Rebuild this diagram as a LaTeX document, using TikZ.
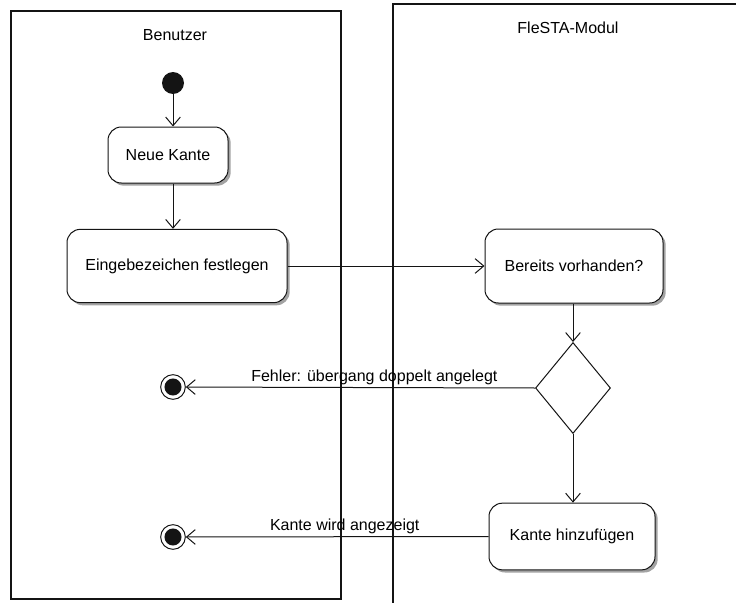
\documentclass[tikz,border=0pt]{standalone}
\usepackage{fontspec}
\setmainfont{Liberation Sans}
\usetikzlibrary{arrows.meta,calc,positioning,shapes.geometric,shadows}
\definecolor{umlInk}{RGB}{20,20,20}
\definecolor{umlShade}{RGB}{140,140,140}
\tikzset{
  lane/.style={draw=umlInk,line width=0.8pt},
  action/.style={draw=umlInk,fill=white,rounded corners=10pt,line width=0.75pt,
    align=center,inner sep=0pt,
    drop shadow={shadow xshift=2pt,shadow yshift=-2pt,fill=umlShade,opacity=0.8}},
  startdot/.style={circle,fill=umlInk,inner sep=0pt,minimum size=16.5pt},
  stopdot/.style={circle,draw=umlInk,fill=white,line width=0.75pt,inner sep=0pt,
    minimum size=18.5pt,
    path picture={\fill[umlInk] (path picture bounding box.center) circle (6.4pt);}},
  decide/.style={diamond,draw=umlInk,fill=white,line width=0.75pt,inner sep=0pt,
    minimum width=56.25pt,minimum height=68.25pt},
  flow/.style={-{Straight Barb[length=6.5pt,width=11pt]},line width=0.75pt,draw=umlInk},
  flowtext/.style={inner sep=1.5pt}
}

\begin{document}
\begin{tikzpicture}[x=0.75pt,y=-0.75pt,font=\fontsize{12}{14}\selectfont]
  \useasboundingbox (0,0) rectangle (736,603);
  % swimlanes
  \draw[lane] (11,11) rectangle (341,599);
  \draw[lane] (736,4) -- (393,4) -- (393,603);
  \node (userLane) at (175,35) {Benutzer};
  \node (moduleLane) at (568,28) {FleSTA-Modul};
  % activities
  \node[startdot] (start) at (173,83) {};
  \node[action,minimum width=90pt,minimum height=42pt] (newEdge) at (168,155) {Neue Kante};
  \node[action,minimum width=165pt,minimum height=55pt] (setLabel) at (177,266) {Eingebezeichen festlegen};
  \node[action,minimum width=133.5pt,minimum height=55.5pt] (check) at (574,266) {Bereits vorhanden?};
  \node[decide] (dec) at (573,388) {};
  \node[action,minimum width=124.5pt,minimum height=50pt] (addEdge) at (572,536.5) {Kante hinzufügen};
  \node[stopdot] (stopErr) at (173,387) {};
  \node[stopdot] (stopOk) at (173,537) {};
  % transitions
  \draw[flow] (start) -- (start |- newEdge.north);
  \draw[flow] (newEdge.south -| start) -- (setLabel.north -| start);
  \draw[flow] (setLabel) -- (check);
  \draw[flow] (check.south -| dec) -- (dec.north);
  \draw[flow] (dec.west) -- node[pos=0.46,above,flowtext] (errText) {Fehler: übergang doppelt angelegt} (stopErr);
  \draw[flow] (dec.south) -- (addEdge.north -| dec);
  \draw[flow] (addEdge.west) -- node[pos=0.475,above,flowtext] (okText) {Kante wird angezeigt} (stopOk);
\end{tikzpicture}
\end{document}
